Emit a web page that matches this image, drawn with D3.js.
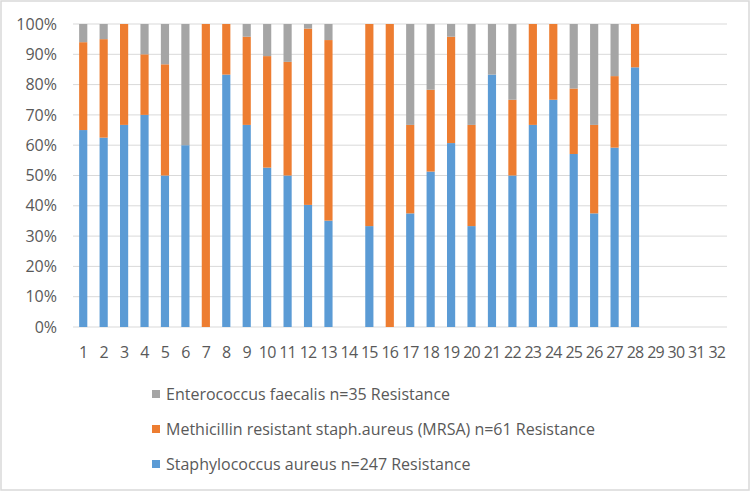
<!DOCTYPE html>
<html>
<head>
<meta charset="utf-8">
<script src="https://cdn.jsdelivr.net/npm/d3@7"></script>
<style>
  body { margin: 0; background: #fff; }
  text { font-family: "Open Sans", "Liberation Sans", sans-serif; fill: #595959; }
</style>
</head>
<body>
<svg width="752" height="493"></svg>
<script>
var width = 752;
var height = 493;

// categories 1..32
var categories = ["1","2","3","4","5","6","7","8","9","10","11","12","13","14","15","16",
                  "17","18","19","20","21","22","23","24","25","26","27","28","29","30","31","32"];

// share of resistance (%), 0 where empty
var staphAureus = [65, 62.5, 66.7, 70, 50, 60, 0, 83.3, 66.7, 52.6, 50, 40.3, 35.1, 0, 33.3, 0,
                   37.5, 51.3, 60.7, 33.3, 83.3, 50, 66.7, 75, 57.1, 37.5, 59.2, 85.7, 0, 0, 0, 0];
var mrsa = [29, 32.5, 33.3, 20, 36.7, 0, 100, 16.7, 29.1, 36.8, 37.5, 58.2, 59.6, 0, 66.7, 100,
            29.2, 27, 35.1, 33.4, 0, 25, 33.3, 25, 21.6, 29.2, 23.6, 14.3, 0, 0, 0, 0];
var enterococcus = [6, 5, 0, 10, 13.3, 40, 0, 0, 4.2, 10.6, 12.5, 1.5, 5.3, 0, 0, 0,
                    33.3, 21.7, 4.2, 33.3, 16.7, 25, 0, 0, 21.3, 33.3, 17.2, 0, 0, 0, 0, 0];

var seriesNames = ["Staphylococcus aureus n=247 Resistance",
                   "Methicillin resistant staph.aureus (MRSA) n=61 Resistance",
                   "Enterococcus faecalis n=35 Resistance"];
var seriesColors = ["#5b9bd5", "#ed7d31", "#a5a5a5"];
var yTicks = [0, 0.1, 0.2, 0.3, 0.4, 0.5, 0.6, 0.7, 0.8, 0.9, 1];

var svg = d3.select("svg");

var plot = { l: 73, r: 727, t: 24, b: 327 };

// chart border
svg.append("rect")
    .attr("x", 1)
    .attr("y", 1)
    .attr("width", width - 4)
    .attr("height", height - 4)
    .attr("fill", "#fff")
    .attr("stroke", "#d9d9d9")
    .attr("stroke-width", 1.5);

// build rows for the stack
var rows = categories.map(function (c, i) {
    return { cat: c, s0: staphAureus[i], s1: mrsa[i], s2: enterococcus[i] };
});
var stack = d3.stack().keys(["s0", "s1", "s2"]).offset(d3.stackOffsetExpand);
var layers = stack(rows);

var xScale = d3.scaleBand().domain(categories).range([plot.l, plot.r]).paddingInner(0.6).paddingOuter(0.3);
var yScale = d3.scaleLinear().domain([0, 1]).range([plot.b, plot.t]);

// gridlines
svg.append("g")
    .selectAll("line")
    .data(yTicks)
    .enter()
    .append("line")
    .attr("x1", plot.l)
    .attr("x2", plot.r)
    .attr("y1", d => yScale(d))
    .attr("y2", d => yScale(d))
    .attr("stroke", "#d9d9d9")
    .attr("stroke-width", 1);

// y axis labels
var yAxis = d3.axisLeft(yScale).tickValues(yTicks).tickFormat(d3.format(".0%")).tickSize(0).tickPadding(16);
svg.append("g")
    .attr("transform", "translate(" + plot.l + ",0)")
    .call(yAxis)
    .call(g => g.select(".domain").remove())
    .selectAll("text")
    .style("font-family", "\"Open Sans\", sans-serif")
    .style("font-size", "16px")
    .style("fill", "#595959");

// x axis labels
var xAxis = d3.axisBottom(xScale).tickSize(0).tickPadding(20);
svg.append("g")
    .attr("transform", "translate(0," + plot.b + ")")
    .call(xAxis)
    .call(g => g.select(".domain").remove())
    .selectAll("text")
    .style("font-family", "\"Open Sans\", sans-serif")
    .style("font-size", "16px")
    .style("letter-spacing", "-0.8px")
    .style("fill", "#595959");

// bars
svg.append("g")
    .selectAll("g")
    .data(layers)
    .enter()
    .append("g")
    .attr("fill", (d, i) => seriesColors[i])
    .selectAll("rect")
    .data(d => d.filter(p => !isNaN(p[1]) && p[1] > p[0]))
    .enter()
    .append("rect")
    .attr("x", d => xScale(d.data.cat))
    .attr("y", d => yScale(d[1]))
    .attr("width", xScale.bandwidth())
    .attr("height", d => yScale(d[0]) - yScale(d[1]));

// legend, top to bottom: Enterococcus, MRSA, Staph
var legendY = d3.scalePoint().domain([2, 1, 0]).range([394, 464]);
var legend = svg.append("g")
    .selectAll("g")
    .data([2, 1, 0])
    .enter()
    .append("g")
    .attr("transform", d => "translate(152," + legendY(d) + ")");

legend.append("rect")
    .attr("x", 0)
    .attr("y", -4)
    .attr("width", 8)
    .attr("height", 8)
    .attr("fill", d => seriesColors[d]);

legend.append("text")
    .attr("x", 14)
    .attr("y", 0)
    .attr("dy", "0.35em")
    .style("font-size", "16px")
    .text(d => seriesNames[d]);
</script>
</body>
</html>
